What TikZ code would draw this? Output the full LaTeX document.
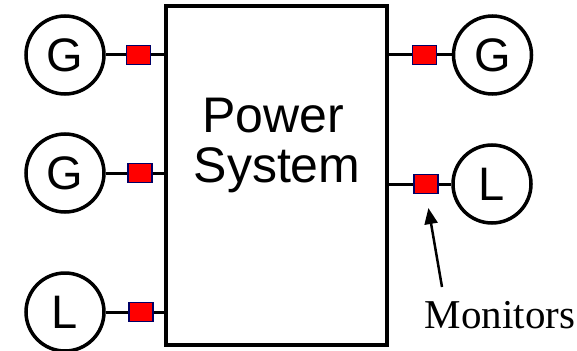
\documentclass[tikz,border=0pt]{standalone}
\usepackage{fontspec}
\newfontfamily\arialfont{Liberation Sans}
\newfontfamily\timesfont{Liberation Serif}
\usepackage{tikz}
\usetikzlibrary{arrows.meta,positioning,calc}

\begin{document}
\begin{tikzpicture}[x=1pt,y=-1pt,
    bus/.style={circle,draw,line width=3.5pt,minimum size=78pt,inner sep=0pt,
      font=\arialfont\fontsize{47}{47}\selectfont},
    pmu/.style={rectangle,draw=blue!40!black,fill=red,line width=1.5pt,
      minimum width=24pt,minimum height=19pt,inner sep=0pt},
    wire/.style={line width=3pt}]
        \useasboundingbox (0,0) rectangle (577,350);
        \node[draw,line width=3.5pt,minimum width=221pt,minimum height=339pt,inner sep=0pt]
          (sys) at (276.5,175.5) {};
        \node[anchor=base,font=\arialfont\fontsize{50}{50}\selectfont] (power) at (273,132) {Power};
        \node[anchor=base,font=\arialfont\fontsize{50}{50}\selectfont] (system) at (277,182) {System};
        % left side
        \node[bus] (g1) at (65,55) {G};
        \node[bus] (g2) at (65,173) {G};
        \node[bus] (l1) at (65,312) {L};
        \node[pmu] (m1) at (138.5,55) {};
        \node[pmu] (m2) at (140,173) {};
        \node[pmu] (m3) at (141,312) {};
        % right side
        \node[bus] (g3) at (492.5,55) {G};
        \node[bus] (l2) at (492,184) {L};
        \node[pmu] (m4) at (424.5,55) {};
        \node[pmu] (m5) at (426,184) {};
        \foreach \b/\m in {g1/m1,g2/m2,l1/m3,g3/m4,l2/m5}
          \draw[wire] (\b) -- (\m);
        \foreach \m/\s in {m1/west,m2/west,m3/west,m4/east,m5/east}
          \draw[wire] (\m) -- (\m -| sys.\s);
        \node[font=\timesfont\fontsize{41}{41}\selectfont,anchor=base] (mon) at (500,328) {Monitors};
        \coordinate (tail) at (442,287);
        \draw[line width=2.5pt,-{Triangle[length=16pt,width=13pt]},shorten >=14pt] (tail) -- (m5.south);
      \end{tikzpicture}
\end{document}
